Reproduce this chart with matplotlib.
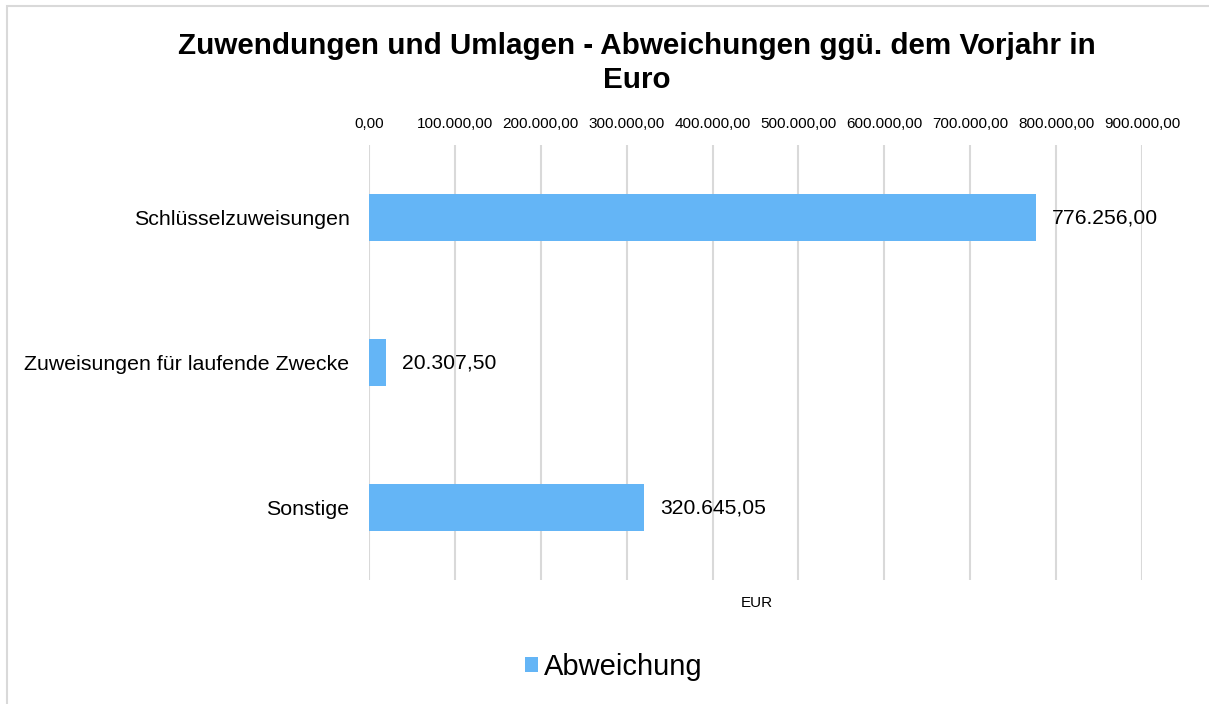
import matplotlib
matplotlib.use("Agg")
import matplotlib.pyplot as plt
from matplotlib.patches import Rectangle

plt.rcParams['font.family'] = ['Liberation Sans', 'DejaVu Sans']

categories = ["Schlüsselzuweisungen", "Zuweisungen für laufende Zwecke", "Sonstige"]
abweichung = [776256.00, 20307.50, 320645.05]
xticks = [0, 100000, 200000, 300000, 400000, 500000, 600000, 700000, 800000, 900000]

BAR = "#64B5F6"
GRID = "#d9d9d9"


def de_fmt(v):
    s = f"{v:,.2f}"
    return s.replace(",", "X").replace(".", ",").replace("X", ".")


def main():
    fig = plt.figure(figsize=(12.09, 7.04), dpi=100)
    ax = fig.add_axes([369 / 1209, 124 / 704, 773 / 1209, 435 / 704])

    ypos = list(range(len(categories)))
    ax.barh(ypos, abweichung, height=0.32, color=BAR, zorder=3, label="Abweichung")
    for y, v in zip(ypos, abweichung):
        ax.annotate(de_fmt(v), (v, y), xytext=(16, 0), textcoords="offset pixels",
                    va="center", ha="left", fontsize=15.2, color="#000000")

    ax.set_ylim(len(categories) - 0.5, -0.5)
    ax.set_yticks(ypos)
    ax.set_yticklabels(categories, fontsize=15.4)
    ax.set_xlim(0, 900000)
    ax.set_xticks(xticks)
    ax.set_xticklabels([de_fmt(t) for t in xticks], fontsize=11)
    ax.xaxis.tick_top()
    ax.tick_params(axis="x", length=0, pad=10)
    ax.tick_params(axis="y", length=0, pad=14)
    ax.grid(axis="x", color=GRID, linewidth=1.5, zorder=0)
    for s in ax.spines.values():
        s.set_visible(False)

    fig.text(757 / 1209, 1 - 603 / 704, "EUR", ha="center", va="center", fontsize=11)
    fig.text(637 / 1209, 1 - 63 / 704,
             "Zuwendungen und Umlagen - Abweichungen ggü. dem Vorjahr in\nEuro",
             ha="center", va="center", fontsize=21.3, fontweight="bold", linespacing=1.28)

    fig.legend(loc="center", bbox_to_anchor=(614 / 1209, 1 - 667 / 704), frameon=False,
               fontsize=21, handlelength=0.45, handleheight=0.45, handletextpad=0.2)

    fig.patches.append(Rectangle((7 / 1209, -0.1), 1.2, 1.1 - 6 / 704, transform=fig.transFigure,
                                 fill=False, edgecolor=GRID, linewidth=1.5))
    fig.savefig("out.png", dpi=100)


main()
